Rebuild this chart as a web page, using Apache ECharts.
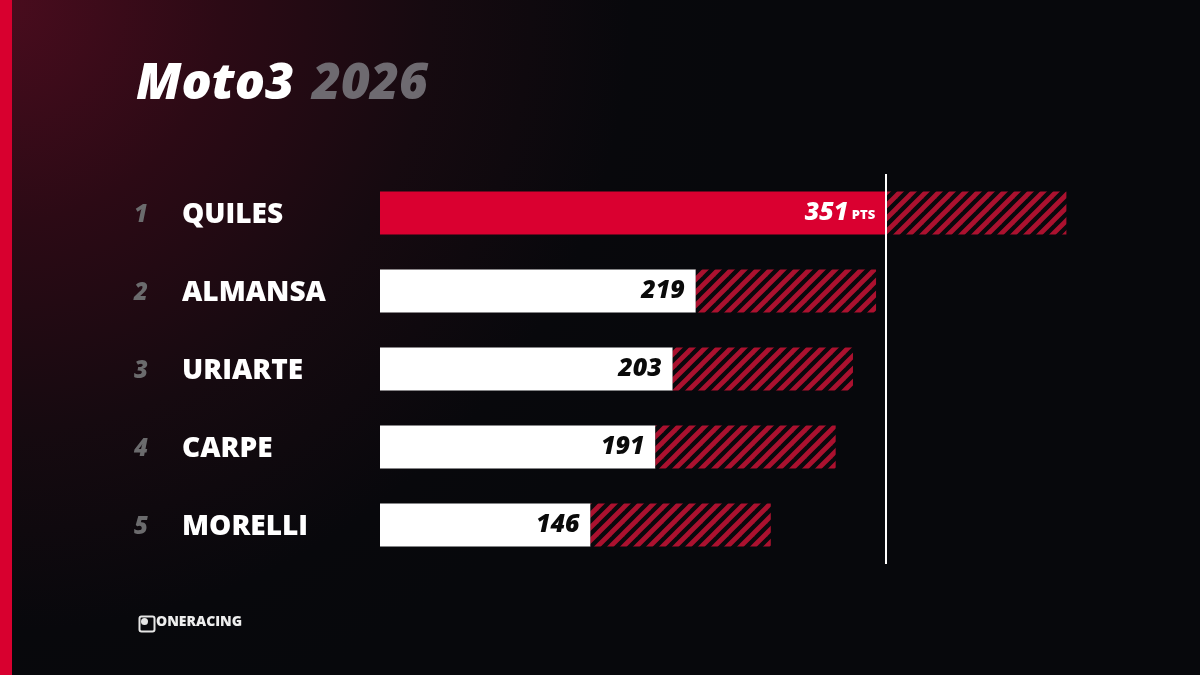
<!DOCTYPE html>
<html>
<head>
<meta charset="utf-8">
<script src="https://cdn.jsdelivr.net/npm/echarts@6/dist/echarts.min.js"></script>
<style>
  html, body { margin: 0; padding: 0; background: #07080c; }
  #chart { width: 1200px; height: 675px; }
</style>
</head>
<body>
<div id="chart"></div>
<script>
const ranks = ['1', '2', '3', '4', '5']
const riders = ['QUILES', 'ALMANSA', 'URIARTE', 'CARPE', 'MORELLI']
const points = [351, 219, 203, 191, 146]
const remaining = [125, 125, 125, 125, 125]

// hatch tile for the "still possible" part of each bar
function hatch() {
    const s = 13
    const c = document.createElement('canvas')
    c.width = s; c.height = s
    const ctx = c.getContext('2d')
    ctx.fillStyle = '#09090d'
    ctx.fillRect(0, 0, s, s)
    ctx.strokeStyle = '#ab112f'
    ctx.lineWidth = 4.8
    ctx.lineCap = 'square'
    const lines = [[0, s, s, 0], [-s / 2, s / 2, s / 2, -s / 2], [s / 2, s * 1.5, s * 1.5, s / 2]]
    lines.forEach(l => {
        ctx.beginPath(); ctx.moveTo(l[0], l[1]); ctx.lineTo(l[2], l[3]); ctx.stroke()
    })
    return c
}

const font = '"Open Sans", sans-serif'
const myChart = echarts.init(document.getElementById('chart'))

let option = {
    animation: false,
    backgroundColor: {
        type: 'radial', x: 0, y: 0, r: 1.1,
        colorStops: [
            { offset: 0, color: '#4a0c1e' },
            { offset: 0.3, color: '#2c0a15' },
            { offset: 0.58, color: '#160a10' },
            { offset: 0.85, color: '#08080c' },
            { offset: 1, color: '#07080c' }
        ]
    },
    title: {
        text: '{a|Moto3}{b|2026}',
        left: 131, top: 55,
        textStyle: {
            rich: {
                a: { color: '#ffffff', fontSize: 50, fontWeight: 800, fontStyle: 'italic', fontFamily: font },
                b: { color: '#6e6a70', fontSize: 50, fontWeight: 800, fontStyle: 'italic', fontFamily: font, padding: [0, 0, 0, 18] }
            }
        }
    },
    graphic: [
        { type: 'rect', left: 0, top: 0, shape: { width: 12, height: 675 }, style: { fill: '#d8002f' } },
        { type: 'rect', left: 137, top: 614, shape: { width: 15, height: 15, r: 2 }, style: { fill: 'none', stroke: '#e6e6e6', lineWidth: 2 } },
        { type: 'circle', left: 141, top: 618, shape: { r: 3.5 }, style: { fill: '#e6e6e6' } },
        { type: 'text', left: 156, top: 615, style: { text: 'ONERACING', fill: '#eeeeee', font: '800 14px "Open Sans", sans-serif' } }
    ],
    grid: { left: 380, right: 99, top: 174, bottom: 111 },
    xAxis: {
        type: 'value', min: 0, max: 500,
        show: false
    },
    yAxis: {
        type: 'category',
        data: riders,
        inverse: true,
        axisLine: { show: false },
        axisTick: { show: false },
        axisLabel: {
            align: 'left',
            margin: 246,
            formatter: (v, i) => '{r|' + ranks[i] + '}{n|' + v + '}',
            rich: {
                r: { width: 48, color: '#6b6b6d', fontSize: 24, fontWeight: 800, fontStyle: 'italic', fontFamily: font, padding: [4, 0, 0, 0] },
                n: { color: '#ffffff', fontSize: 28, fontWeight: 800, fontFamily: font, padding: [4, 0, 0, 0] }
            }
        }
    },
    series: [
        {
            name: 'Puntos',
            type: 'bar',
            stack: 'total',
            barWidth: 43,
            data: points.map((v, i) => ({
                value: v,
                itemStyle: { color: i === 0 ? '#da0030' : '#ffffff' }
            })),
            label: {
                show: true,
                position: 'insideRight',
                distance: 11,
                formatter: p => p.dataIndex === 0 ? '{w|' + p.value + '}{u| PTS}' : '{k|' + p.value + '}',
                rich: {
                    w: { color: '#ffffff', fontSize: 25, fontWeight: 800, fontStyle: 'italic', fontFamily: font },
                    u: { color: '#ffffff', fontSize: 13, fontWeight: 800, fontFamily: font, padding: [5, 0, 0, 0] },
                    k: { color: '#0a0a0a', fontSize: 25, fontWeight: 800, fontStyle: 'italic', fontFamily: font }
                }
            },
            markLine: {
                silent: true,
                symbol: 'none',
                label: { show: false },
                lineStyle: { color: '#ffffff', width: 2, type: 'solid' },
                data: [{ xAxis: points[0] }]
            }
        },
        {
            name: 'Restantes',
            type: 'bar',
            stack: 'total',
            barWidth: 43,
            data: remaining,
            itemStyle: { color: { image: hatch(), repeat: 'repeat' } }
        }
    ]
}
myChart.setOption(option)
</script>
</body>
</html>
